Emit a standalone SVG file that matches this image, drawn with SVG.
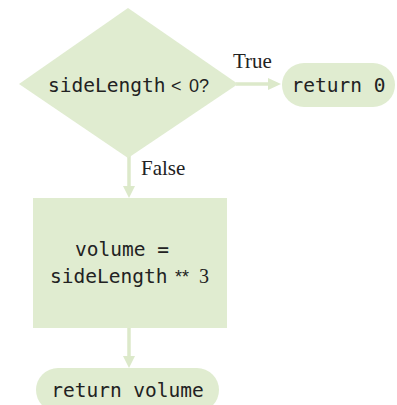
<svg xmlns="http://www.w3.org/2000/svg" width="397" height="405" viewBox="0 0 397 405">
<style>
.shape{fill:#e0ecd0;}
.conn{stroke:#dce9ca;stroke-width:3.5;fill:none;}
.head{fill:#dce9ca;}
.code{font-family:"DejaVu Sans Mono",monospace;font-size:19.5px;fill:#222;}
.lab{font-family:"Liberation Serif",serif;font-size:21px;fill:#222;}
.sym{font-family:"Liberation Sans",sans-serif;font-size:18px;fill:#222;}
.num{font-family:"Liberation Serif",serif;font-size:20px;fill:#222;}
</style>
<g id="connectors">
<line class="conn" x1="236" y1="84" x2="270" y2="84"/>
<polygon class="head" points="268,78 281,84 268,90"/>
<line class="conn" x1="129" y1="155" x2="129" y2="188"/>
<polygon class="head" points="123,186 129,198 135,186"/>
<line class="conn" x1="129" y1="328" x2="129" y2="358"/>
<polygon class="head" points="123,356 129,368 135,356"/>
<text class="lab" x="233" y="68">True</text>
<text class="lab" x="141" y="175">False</text>
</g>
<g id="decision">
<polygon class="shape" points="128,8 238,84 128,158 19,84"/>
<text class="code" x="48" y="92">sideLength</text>
<text class="sym" x="171" y="92">&lt;</text>
<text class="sym" x="189" y="92">0?</text>
</g>
<g id="return0">
<rect class="shape" x="282" y="63" width="113" height="44" rx="22"/>
<text class="code" x="338.5" y="92" text-anchor="middle">return 0</text>
</g>
<g id="compute">
<rect class="shape" x="33" y="198" width="194" height="130"/>
<text class="code" x="122" y="256" text-anchor="middle">volume =</text>
<text class="code" x="50" y="283">sideLength</text>
<text class="sym" x="175" y="283" font-size="15">**</text>
<text class="num" x="199" y="283">3</text>
</g>
<g id="returnVolume">
<rect class="shape" x="36" y="368" width="183" height="44" rx="22"/>
<text class="code" x="127.5" y="397" text-anchor="middle">return volume</text>
</g>
</svg>
